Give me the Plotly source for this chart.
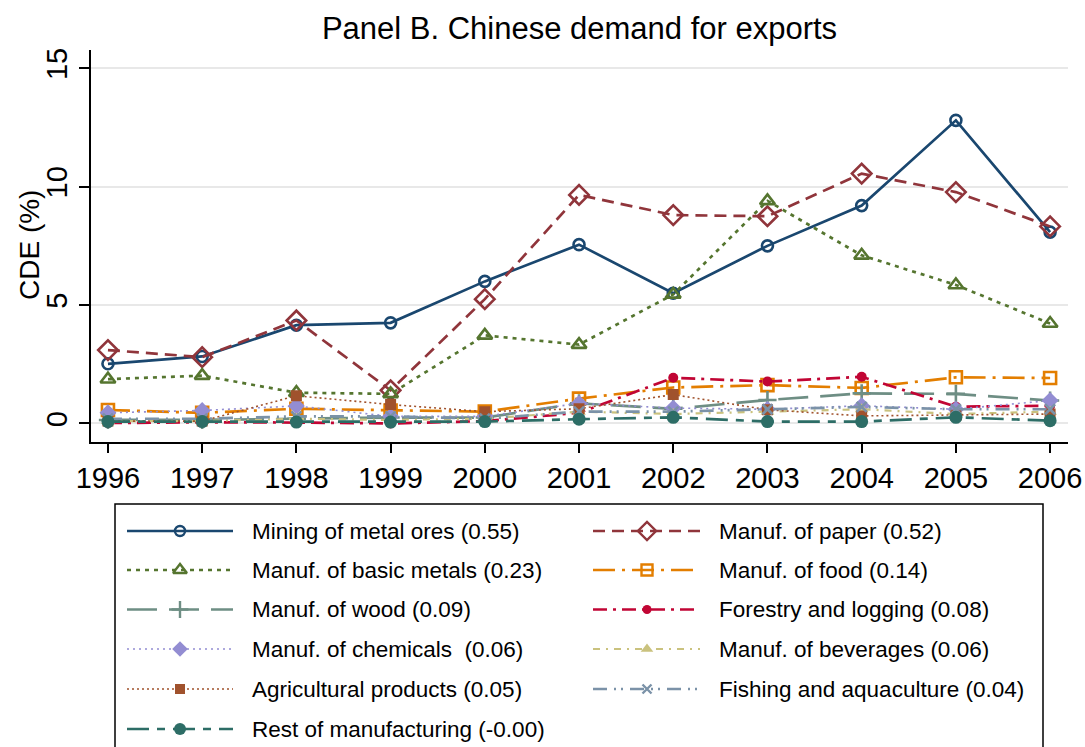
import plotly.graph_objects as go

# ---------------- data ----------------
years = [1996, 1997, 1998, 1999, 2000, 2001, 2002, 2003, 2004, 2005, 2006]
year_labels = [str(y) for y in years]
y_ticks = [0, 5, 10, 15]

mining = [2.52, 2.83, 4.15, 4.25, 6.0, 7.55, 5.5, 7.5, 9.2, 12.8, 8.08]
paper = [3.1, 2.8, 4.35, 1.4, 5.25, 9.65, 8.8, 8.75, 10.55, 9.77, 8.32]
basic_metals = [1.87, 2.02, 1.3, 1.25, 3.72, 3.33, 5.45, 9.4, 7.1, 5.85, 4.22]
food = [0.57, 0.45, 0.62, 0.55, 0.5, 1.05, 1.52, 1.62, 1.5, 1.95, 1.92]
wood = [0.15, 0.15, 0.2, 0.25, 0.25, 0.85, 0.62, 0.99, 1.27, 1.25, 0.97]
forestry = [0.02, 0.05, 0.04, 0.0, 0.1, 0.45, 1.93, 1.77, 1.97, 0.71, 0.75]
chemicals = [0.45, 0.55, 0.74, 0.3, 0.3, 0.85, 0.65, 0.6, 0.75, 0.6, 0.97]
beverages = [0.1, 0.1, 0.2, 0.15, 0.2, 0.5, 0.4, 0.5, 0.6, 0.4, 0.5]
agricultural = [0.1, 0.1, 1.17, 0.8, 0.5, 0.62, 1.22, 0.58, 0.32, 0.35, 0.4]
fishing = [0.2, 0.2, 0.3, 0.3, 0.2, 0.5, 0.5, 0.6, 0.7, 0.6, 0.6]
rest = [0.08, 0.08, 0.06, 0.06, 0.08, 0.18, 0.26, 0.08, 0.08, 0.26, 0.12]

names = [
    "Mining of metal ores (0.55)",
    "Manuf. of paper (0.52)",
    "Manuf. of basic metals (0.23)",
    "Manuf. of food (0.14)",
    "Manuf. of wood (0.09)",
    "Forestry and logging (0.08)",
    "Manuf. of chemicals  (0.06)",
    "Manuf. of beverages (0.06)",
    "Agricultural products (0.05)",
    "Fishing and aquaculture (0.04)",
    "Rest of manufacturing (-0.00)",
]
values = [mining, paper, basic_metals, food, wood, forestry, chemicals,
          beverages, agricultural, fishing, rest]

# ---------------- styles ----------------
colors = ["#1a476f", "#90353b", "#55752f", "#e37e00", "#6e8e84", "#c10534",
          "#938dd2", "#cac27e", "#a0522d", "#7b92a8", "#2d6d66"]
dashes = ["solid", "12px,7px", "4px,5px", "22px,7px,3px,7px", "30px,12px",
          "14px,6px,3px,6px", "2px,4px", "7px,6px,2px,6px", "2px,3px",
          "14px,7px,2px,5px,2px,7px", "22px,8px,8px,8px"]
widths = [2.7, 2.7, 2.7, 2.7, 2.7, 2.7, 1.6, 2.2, 1.6, 2.7, 2.7]
symbols = ["circle-open", "diamond-open", "triangle-up-open", "square-open",
           "cross-thin-open", "circle", "diamond", "triangle-up", "square",
           "x-thin-open", "circle"]
msizes = [11, 15, 13, 12, 13, 10, 13, 12, 11, 10, 13]

FONT = "Liberation Sans, Arial, sans-serif"

fig = go.Figure()

for name, vals, c, d, w, s, ms in zip(names, values, colors, dashes, widths, symbols, msizes):
    open_sym = "open" in s
    fig.add_trace(go.Scatter(
        x=years, y=vals, name=name, mode="lines+markers", showlegend=False,
        line=dict(color=c, width=w, dash=d),
        marker=dict(symbol=s, size=ms, color=c,
                    line=dict(color=c, width=2.6 if open_sym else 0)),
        xaxis="x", yaxis="y",
    ))

# ---------------- custom legend (on a hidden pixel-scaled axis pair) ----------------
H = 747
leg_dom_top = 0.36
leg_top_px = H - leg_dom_top * 697
col_line_x = [(127, 180, 233), (593, 647, 700)]
col_text_x = [250, 717]
row_y = [531, 570, 609.5, 649, 689, 729]

for i, (name, c, d, w, s, ms) in enumerate(zip(names, colors, dashes, widths, symbols, msizes)):
    col = i % 2
    row = i // 2
    x0, xm, x1 = col_line_x[col]
    yy = row_y[row]
    open_sym = "open" in s
    fig.add_trace(go.Scatter(
        x=[x0, x1], y=[yy, yy], mode="lines", showlegend=False, hoverinfo="skip",
        line=dict(color=c, width=w, dash=d), xaxis="x2", yaxis="y2"))
    fig.add_trace(go.Scatter(
        x=[xm], y=[yy], mode="markers", showlegend=False, hoverinfo="skip",
        marker=dict(symbol=s, size=ms - 1, color=c,
                    line=dict(color=c, width=2.4 if open_sym else 0)),
        xaxis="x2", yaxis="y2"))
    fig.add_annotation(x=col_text_x[col], y=yy, xref="x2", yref="y2", text=name,
                       showarrow=False, xanchor="left", yanchor="middle",
                       font=dict(family=FONT, size=22.5, color="black"))

fig.add_shape(type="rect", xref="x2", yref="y2", x0=115, x1=1043, y0=504, y1=770,
              line=dict(color="black", width=1.5), fillcolor="rgba(0,0,0,0)")

fig.add_annotation(text="CDE (%)", xref="paper", yref="paper",
                   x=(29 - 91) / 977, y=(H - 245) / 697, textangle=-90,
                   showarrow=False, xanchor="center", yanchor="middle",
                   font=dict(family=FONT, size=28, color="black"))

fig.update_layout(
    width=1085, height=747, autosize=False,
    margin=dict(l=91, r=17, t=50, b=0),
    paper_bgcolor="white", plot_bgcolor="white",
    font=dict(family=FONT, color="black"),
    title=dict(text="Panel B. Chinese demand for exports", x=0.5,
               xref="paper", xanchor="center", y=1 - 28 / 747, yref="container",
               yanchor="middle", font=dict(family=FONT, size=31, color="black")),
    xaxis=dict(domain=[0, 1], range=[1995.82, 2006.19], tickvals=years, ticktext=year_labels,
               ticks="outside", ticklen=10, tickwidth=1.5, tickcolor="black",
               showline=True, linecolor="black", linewidth=1.5, showgrid=False,
               zeroline=False, tickfont=dict(family=FONT, size=29), anchor="y"),
    yaxis=dict(domain=[0.438, 1], range=[-0.77, 15.77], tickvals=y_ticks,
               ticks="outside", ticklen=10, tickwidth=1.5, tickcolor="black",
               tickangle=-90, ticklabelstandoff=1,
               showline=True, linecolor="black", linewidth=1.5,
               showgrid=True, gridcolor="#e8e8e8", gridwidth=1.5,
               zeroline=False, tickfont=dict(family=FONT, size=29), anchor="x"),
    xaxis2=dict(domain=[0, 1], range=[91, 1068], visible=False, anchor="y2"),
    yaxis2=dict(domain=[0, leg_dom_top], range=[H, leg_top_px], visible=False, anchor="x2"),
)

fig.write_html("out.html", config={"displayModeBar": False},
               post_script="document.body.style.margin='0px';document.body.style.padding='0px';document.body.style.overflow='hidden';")
